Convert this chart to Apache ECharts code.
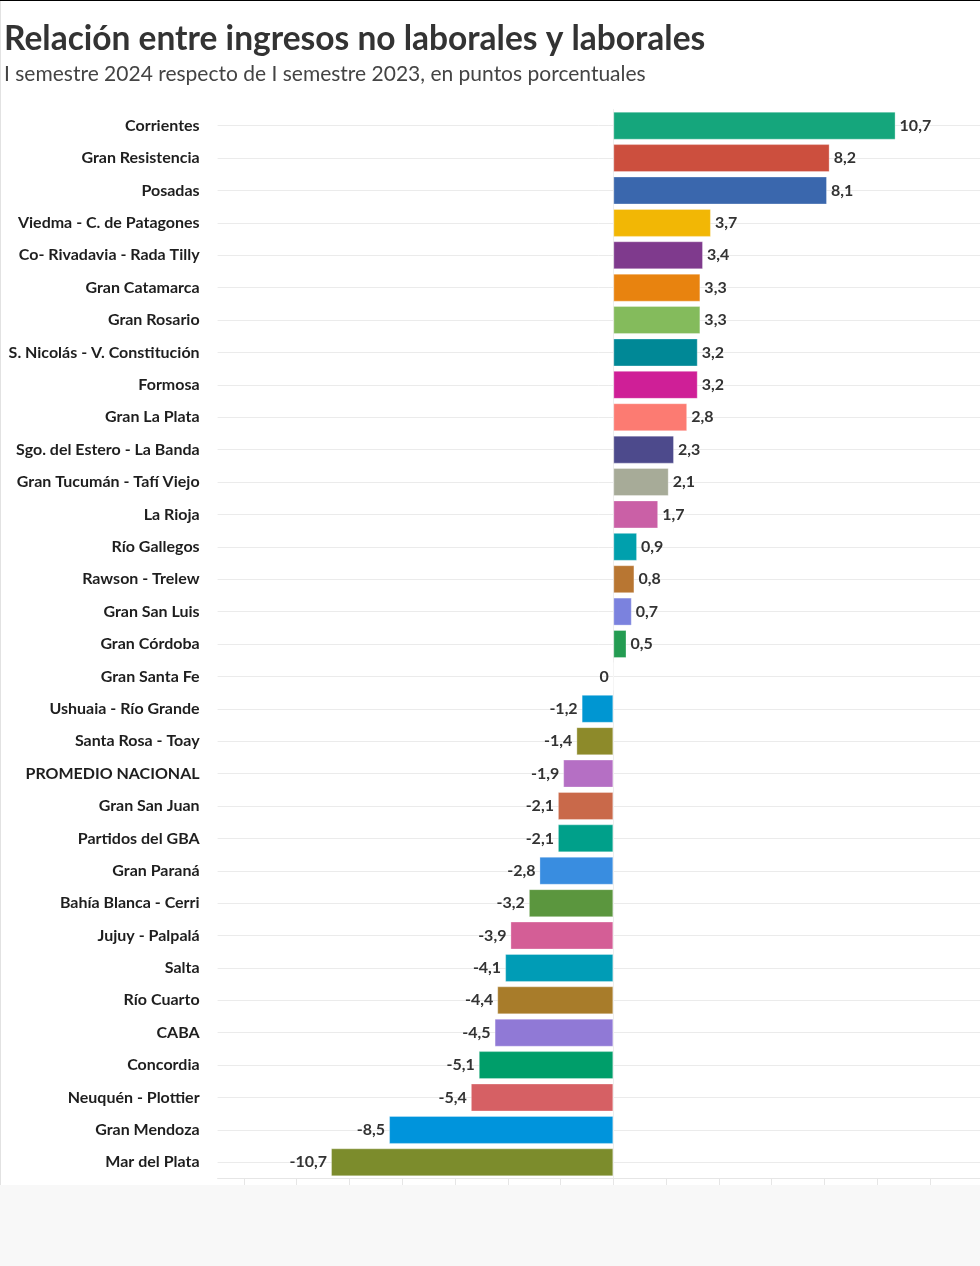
<!DOCTYPE html>
<html><head><meta charset="utf-8">
<script src="https://cdn.jsdelivr.net/npm/echarts@6/dist/echarts.min.js"></script>
<style>
html,body{margin:0;padding:0;background:#f8f8f8;}
#wrap{position:relative;width:980px;height:1185px;background:#fff;}
#c{width:980px;height:1185px;}
#edge{position:absolute;left:0;top:0;width:1px;height:1185px;background:#e2e2e2;}
#topline{position:absolute;left:0;top:0;width:980px;height:1px;background:#000;}
</style></head><body>
<div id="wrap"><div id="c"></div><div id="edge"></div><div id="topline"></div></div>
<script>
const categories = ["Corrientes","Gran Resistencia","Posadas","Viedma - C. de Patagones","Co- Rivadavia - Rada Tilly","Gran Catamarca","Gran Rosario","S. Nicolás - V. Constitución","Formosa","Gran La Plata","Sgo. del Estero - La Banda","Gran Tucumán - Tafí Viejo","La Rioja","Río Gallegos","Rawson - Trelew","Gran San Luis","Gran Córdoba","Gran Santa Fe","Ushuaia - Río Grande","Santa Rosa - Toay","PROMEDIO NACIONAL","Gran San Juan","Partidos del GBA","Gran Paraná","Bahía Blanca - Cerri","Jujuy - Palpalá","Salta","Río Cuarto","CABA","Concordia","Neuquén - Plottier","Gran Mendoza","Mar del Plata"];
const values = [10.7,8.2,8.1,3.7,3.4,3.3,3.3,3.2,3.2,2.8,2.3,2.1,1.7,0.9,0.8,0.7,0.5,0,-1.2,-1.4,-1.9,-2.1,-2.1,-2.8,-3.2,-3.9,-4.1,-4.4,-4.5,-5.1,-5.4,-8.5,-10.7];
const colors = ["#15a67c","#cc4f3e","#3a67ad","#f2b705","#7f3a8d","#e8830f","#84bb5c","#008896","#cf1f97","#fc7b72","#4d4a8c","#a7ab98","#ca60a6","#00a0ad","#b87632","#7b82de","#249c52","#999999","#0096d2","#8d8a2a","#b56fc4","#c9694a","#00a08a","#398de0","#5b963e","#d45e96","#009cb6","#a87c2a","#9079d6","#009e6a","#d66064","#0094dc","#7c8c2c"];
const xTicks = [-14,-12,-10,-8,-6,-4,-2,0,2,4,6,8,10,12];

const FONT = 'Lato';
const chart = echarts.init(document.getElementById('c'), null, {renderer:'canvas'});
chart.setOption({
  animation:false,
  backgroundColor:'#fff',
  title:{
    left:4, top:22.5, padding:0,
    text:'Relación entre ingresos no laborales y laborales',
    subtext:'I semestre 2024 respecto de I semestre 2023, en puntos porcentuales',
    itemGap:7,
    textStyle:{fontFamily:FONT,fontSize:33.5,fontWeight:'bold',color:'#333'},
    subtextStyle:{fontFamily:FONT,fontSize:21,color:'#444'}
  },
  grid:{left:217.6, top:109.5, right:0, height:1069, containLabel:false},
  xAxis:{
    type:'value', min:-15, max:13.9,
    axisLabel:{show:false},
    splitLine:{show:false},
    axisLine:{show:true, onZero:false, lineStyle:{color:'#e6e6e6'}},
    axisTick:{show:true, customValues:xTicks, length:7, lineStyle:{color:'#e6e6e6'}}
  },
  yAxis:{
    type:'category', data:categories, inverse:true,
    axisLine:{show:true, lineStyle:{color:'#eeeeee'}},
    axisTick:{show:false},
    splitLine:{show:false},
    axisLabel:{margin:18, fontFamily:FONT, fontSize:16, fontWeight:'bold', color:'#1e1e1e'}
  },
  series:[
    {
      type:'line', data:[], silent:true, z:0,
      markLine:{
        silent:true, z:0, symbol:['none','none'], label:{show:false},
        lineStyle:{color:'#ebebeb', type:'solid', width:1},
        data: categories.map(c => ({yAxis:c}))
      }
    },
    {
      type:'bar', z:5, barWidth:28,
      data: values.map((v,i)=>({
        value:v,
        itemStyle:{color:colors[i], borderColor:'rgba(255,255,255,0.3)', borderWidth:1},
        label:{position: v>0 ? 'right' : 'left'}
      })),
      label:{
        show:true, distance:4,
        fontFamily:FONT, fontSize:16, fontWeight:'bold', color:'#333',
        formatter: p => String(p.value).replace('.', ',')
      }
    }
  ]
});
</script>
</body></html>
